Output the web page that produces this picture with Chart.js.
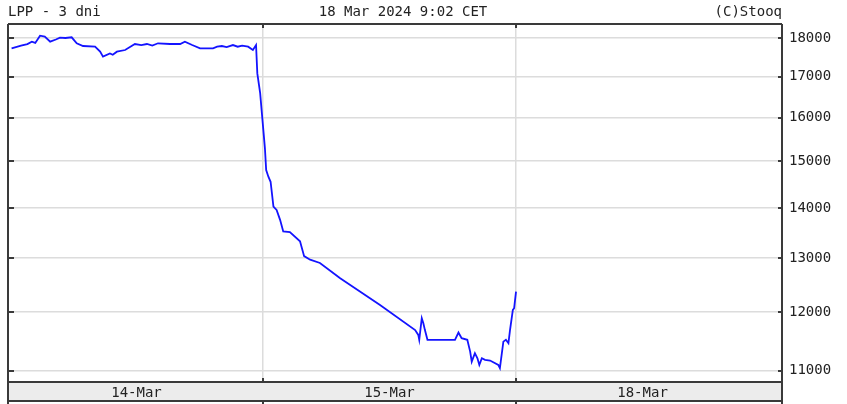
<!DOCTYPE html>
<html>
<head>
<meta charset="utf-8">
<script src="https://cdn.jsdelivr.net/npm/chart.js@4.4.1/dist/chart.umd.min.js"></script>
<style>
  body { margin: 0; background: #fff; }
  #wrap { position: relative; width: 847px; height: 404px; }
  .hdr { position: absolute; top: 3px; font: 14px "DejaVu Sans Mono", monospace; color: #222; white-space: nowrap; }
  #hl { left: 8px; }
  #hc { left: 403px; transform: translateX(-50%); }
  #hr { right: 65px; }
</style>
</head>
<body>
<div id="wrap">
  <canvas id="c" width="847" height="404"></canvas>
  <div class="hdr" id="hl">LPP - 3 dni</div>
  <div class="hdr" id="hc">18 Mar 2024 9:02 CET</div>
  <div class="hdr" id="hr">(C)Stooq</div>
</div>
<script>
// session hours from 14-Mar 9:00 (8 h per session)
const hours = [0.05, 0.35, 0.55, 0.69, 0.80, 0.95, 1.10, 1.27, 1.45, 1.58, 1.75, 1.95, 2.11, 2.31, 2.69, 2.85, 2.94, 3.16, 3.25, 3.38,
  3.64, 3.95, 4.15, 4.33, 4.50, 4.68, 5.06, 5.38, 5.53, 5.76, 6.01, 6.42, 6.55, 6.70, 6.85, 7.05, 7.20, 7.34, 7.53, 7.68,
  7.78, 7.82, 7.91, 7.96, 8.01, 8.06, 8.10, 8.17, 8.24, 8.33, 8.43, 8.54, 8.64, 8.85, 9.17, 9.30, 9.49, 9.80, 10.44, 11.70,
  12.81, 12.91, 12.94, 13.02, 13.07, 13.12, 13.20, 14.07, 14.18, 14.28, 14.46, 14.55, 14.60, 14.70, 14.78, 14.84, 14.92, 15.02, 15.18, 15.44,
  15.49, 15.60, 15.68, 15.76, 15.81, 15.90, 15.94, 16.00];
const prices = [17728, 17800, 17840, 17902, 17870, 18061, 18040, 17902, 17960, 18008, 18000, 18019, 17860, 17788, 17770, 17640, 17510, 17594, 17560, 17640,
  17683, 17841, 17814, 17841, 17800, 17860, 17841, 17841, 17902, 17814, 17728, 17728, 17770, 17788, 17760, 17814, 17770, 17800, 17770, 17683,
  17814, 17082, 16590, 16143, 15711, 15295, 14806, 14660, 14551, 14027, 13958, 13754, 13519, 13507, 13324, 13035, 12967, 12904, 12616, 12127,
  11684, 11601, 11517, 11891, 11803, 11684, 11517, 11517, 11641, 11544, 11517, 11317, 11151, 11291, 11207, 11097, 11207, 11180, 11169, 11097,
  11043, 11486, 11517, 11459, 11684, 12037, 12067, 12368];
const days = ['14-Mar', '15-Mar', '18-Mar'];
const yTicks = [11000, 12000, 13000, 14000, 15000, 16000, 17000, 18000];

const frame = {
  id: 'frame',
  beforeDraw(chart) {
    const { ctx, chartArea: a } = chart;
    ctx.save();
    ctx.fillStyle = '#ececec';
    ctx.fillRect(a.left, a.bottom, a.right - a.left, 19);
    ctx.restore();
  },
  afterDraw(chart) {
    const { ctx, chartArea: a, scales } = chart;
    ctx.save();
    ctx.strokeStyle = '#3a3a3a';
    ctx.lineWidth = 2;
    ctx.beginPath();
    ctx.moveTo(a.left, a.top); ctx.lineTo(a.right, a.top);
    ctx.moveTo(a.left, a.top); ctx.lineTo(a.left, 404);
    ctx.moveTo(a.right, a.top); ctx.lineTo(a.right, 404);
    ctx.moveTo(a.left, a.bottom); ctx.lineTo(a.right, a.bottom);
    ctx.moveTo(a.left, a.bottom + 19); ctx.lineTo(a.right, a.bottom + 19);
    // day boundary marks
    [8, 16].forEach(h => {
      const x = scales.x.getPixelForValue(h);
      ctx.moveTo(x, a.top); ctx.lineTo(x, a.top + 4);
      ctx.moveTo(x, a.bottom - 4); ctx.lineTo(x, a.bottom);
      ctx.moveTo(x, a.bottom + 19); ctx.lineTo(x, 404);
    });
    // inner price ticks
    yTicks.forEach(v => {
      const y = Math.round(scales.y.getPixelForValue(v));
      ctx.moveTo(a.left, y); ctx.lineTo(a.left + 6, y);
      ctx.moveTo(a.right - 4, y); ctx.lineTo(a.right, y);
    });
    ctx.stroke();
    ctx.restore();
  }
};

new Chart(document.getElementById('c'), {
  type: 'line',
  data: {
    datasets: [{
      data: hours.map((h, i) => ({ x: h, y: prices[i] })),
      borderColor: '#1414ff',
      borderWidth: 1.8,
      pointRadius: 0,
      tension: 0
    }]
  },
  options: {
    responsive: false,
    animation: false,
    layout: { padding: { left: 8, top: 24, right: 0, bottom: 0 } },
    plugins: { legend: { display: false }, tooltip: { enabled: false } },
    scales: {
      x: {
        type: 'linear',
        min: -0.063,
        max: 24.41,
        afterBuildTicks: s => { s.ticks = [4, 8, 12, 16, 20].map(v => ({ value: v })); },
        afterFit: s => { s.height = 22; },
        grid: {
          drawTicks: false,
          lineWidth: 1.5,
          color: c => (c.tick && c.tick.value % 8 === 0) ? '#dcdcdc' : 'rgba(0,0,0,0)'
        },
        border: { display: false },
        ticks: {
          autoSkip: false,
          maxRotation: 0,
          padding: 3,
          color: '#222',
          font: { family: 'DejaVu Sans Mono', size: 14 },
          callback: v => (v % 8 === 4 ? days[(v - 4) / 8] : '')
        }
      },
      y: {
        type: 'logarithmic',
        position: 'right',
        min: 10820,
        max: 18377,
        afterBuildTicks: s => { s.ticks = yTicks.map(v => ({ value: v })); },
        afterFit: s => { s.width = 65; },
        grid: { drawTicks: false, color: '#dcdcdc', lineWidth: 1.5 },
        border: { display: false },
        ticks: {
          padding: 7,
          color: '#222',
          font: { family: 'DejaVu Sans Mono', size: 14 },
          callback: v => String(v)
        }
      }
    }
  },
  plugins: [frame]
});
</script>
</body>
</html>
